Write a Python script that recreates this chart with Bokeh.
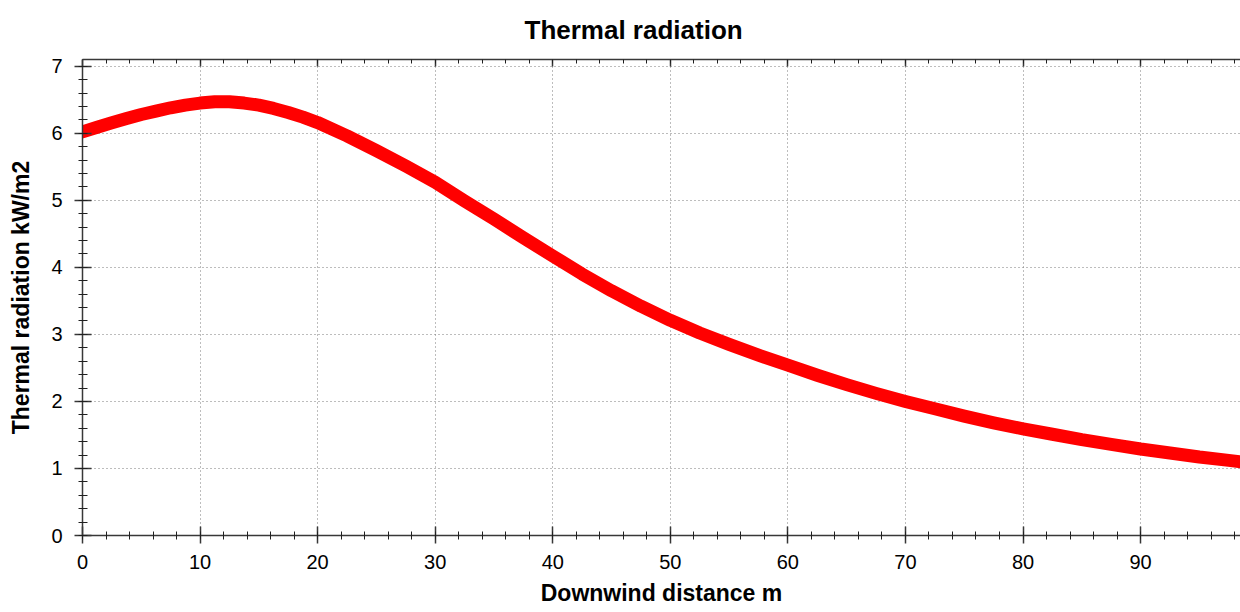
from bokeh.plotting import figure
from bokeh.models import Range1d, LinearAxis, SingleIntervalTicker, CustomLabelingPolicy
from bokeh.embed import file_html
from bokeh.resources import INLINE

# Data
distance_m = [0, 1.25, 2.5, 3.75, 5, 6.25, 7.5, 8.75, 10, 11.25, 12.5, 13.75, 15,
              16.25, 17.5, 18.75, 20, 22.5, 25, 27.5, 30, 32.5, 35, 37.5, 40,
              42.5, 45, 47.5, 50, 52.5, 55, 57.5, 60, 62.5, 65, 67.5, 70, 72.5,
              75, 77.5, 80, 82.5, 85, 87.5, 90, 92.5, 95, 97.5, 99]
radiation_kw_m2 = [6.02, 6.09, 6.155, 6.22, 6.28, 6.33, 6.38, 6.42, 6.45, 6.47,
                   6.47, 6.45, 6.42, 6.37, 6.31, 6.24, 6.16, 5.96, 5.74, 5.51,
                   5.27, 4.99, 4.72, 4.44, 4.17, 3.90, 3.65, 3.42, 3.21, 3.02,
                   2.85, 2.69, 2.54, 2.39, 2.25, 2.12, 2.00, 1.89, 1.78, 1.68,
                   1.59, 1.51, 1.43, 1.36, 1.29, 1.23, 1.17, 1.12, 1.09]

title_text = "Thermal radiation"
x_label = "Downwind distance m"
y_label = "Thermal radiation kW/m2"

FONT = "Liberation Sans"

p = figure(width=1240, height=612, output_backend="svg", toolbar_location=None,
           x_range=Range1d(0, 98.5), y_range=Range1d(0, 7.1),
           x_axis_location=None, y_axis_location=None,
           min_border_left=82, min_border_right=0, min_border_top=59,
           min_border_bottom=77)
p.outline_line_color = None
p.background_fill_color = "white"
p.border_fill_color = "white"

p.title.text = title_text
p.title.align = "left"
p.title.vertical_align = "top"
p.title.offset = 442
p.title.standoff = 26
p.title.text_font = FONT
p.title.text_font_size = "26px"
p.title.text_font_style = "bold"
p.title.text_color = "black"

xt = SingleIntervalTicker(interval=10, num_minor_ticks=5)
yt = SingleIntervalTicker(interval=1, num_minor_ticks=5)


def style(ax, tin, tout, min_in, min_out):
    ax.axis_line_color = "#383838"
    ax.axis_line_width = 1.5
    ax.major_tick_line_color = "#383838"
    ax.major_tick_line_width = 1.5
    ax.minor_tick_line_color = "#202020"
    ax.major_tick_in = tin
    ax.major_tick_out = tout
    ax.minor_tick_in = min_in
    ax.minor_tick_out = min_out
    ax.major_label_text_font = FONT
    ax.major_label_text_font_size = "20px"
    ax.major_label_text_color = "black"
    ax.axis_label_text_font = FONT
    ax.axis_label_text_font_size = "23px"
    ax.axis_label_text_font_style = "bold"
    ax.axis_label_text_color = "black"


xb = LinearAxis(ticker=xt, axis_label=x_label)
style(xb, 9, 8, 4, 4)
xb.major_label_standoff = 11
xb.axis_label_standoff = 8
p.add_layout(xb, "below")

yl = LinearAxis(ticker=yt, axis_label=y_label)
style(yl, 9, 8, 5, 4)
yl.major_label_standoff = 12
yl.axis_label_standoff = 14
p.add_layout(yl, "left")

xa = LinearAxis(ticker=xt)
style(xa, 7, 0, 4, 0)
xa.major_label_policy = CustomLabelingPolicy(code="")
xa.major_label_text_font_size = "0px"
xa.major_label_standoff = 0
p.add_layout(xa, "above")

p.xgrid.ticker = xt
p.ygrid.ticker = yt
for g in (p.xgrid, p.ygrid):
    g.grid_line_color = "#7a7a7a"
    g.grid_line_dash = "1 3"
    g.grid_line_width = 1

p.line(distance_m, radiation_kw_m2, line_color="#ff0000", line_width=13,
       line_cap="round", line_join="round")

open("out.html", "w").write(file_html(p, INLINE))
